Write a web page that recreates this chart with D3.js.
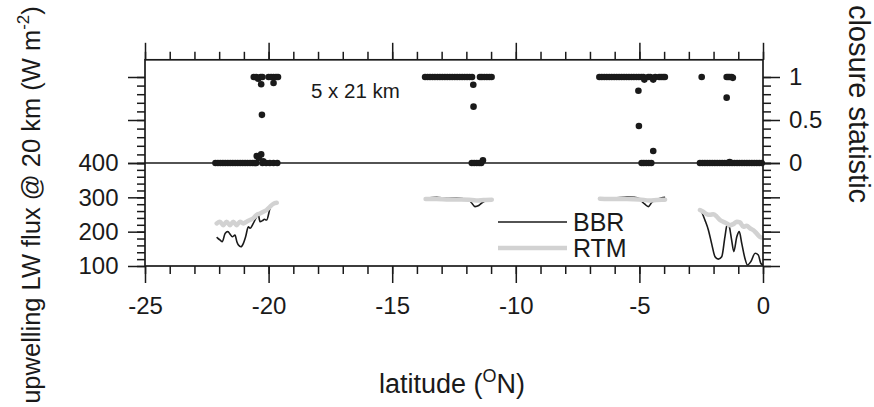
<!DOCTYPE html>
<html>
<head>
<meta charset="utf-8">
<script src="https://cdn.jsdelivr.net/npm/d3@7"></script>
<style>
  html, body { margin: 0; padding: 0; background: #fff; }
  svg { display: block; }
  text { font-family: "Liberation Sans", Arial, Helvetica, sans-serif; fill: #1a1a1a; }
</style>
</head>
<body>
<svg id="chart" width="874" height="407"></svg>
<script>
// ---------------- DATA ----------------
const latTicks = [-25, -20, -15, -10, -5, 0];
const fluxTicks = [100, 200, 300, 400];
const closureTicks = [0, 0.5, 1];

const legendLabels = ["BBR", "RTM"];
const annotation = "5 x 21 km";

// closure statistic scatter (latitude, value)
const closureLat = [
  // segment near -21
  -22.15,-22.05,-21.95,-21.85,-21.75,-21.65,-21.55,-21.45,-21.35,-21.25,-21.15,-21.05,-20.95,-20.85,-20.75,-20.65,-20.57,-20.5,
  -20.48,-20.4,-20.3,-20.22,-20.25,-20.1,-19.95,-19.8,-19.65,
  -20.6,-20.5,-20.42,-20.32,-20.25,-20.0,-19.9,-19.8,-19.7,-19.62,
  -20.3,-19.8,-20.27,
  // segment near -12.5
  -13.67,-13.57,-13.47,-13.37,-13.27,-13.17,-13.07,-12.97,-12.87,-12.77,-12.67,-12.57,-12.47,-12.37,-12.27,-12.17,-12.07,-11.97,-11.87,-11.77,
  -11.45,-11.37,-11.27,-11.17,-11.07,-10.98,
  -11.72,-11.71,
  -11.78,-11.68,-11.58,-11.48,-11.4,-11.33,
  // segment near -5.5
  -6.62,-6.52,-6.42,-6.32,-6.22,-6.12,-6.02,-5.92,-5.82,-5.72,-5.62,-5.52,-5.42,-5.32,-5.22,-5.12,-5.02,-4.92,-4.84,
  -4.8,-4.64,-4.56,-4.44,-4.36,-4.2,-4.12,-4.04,-3.97,
  -5.04,-5.02,-4.44,
  -4.91,-4.82,-4.72,-4.62,-4.52,
  // segment near -1.5
  -2.48,-1.47,-1.41,-1.35,-1.27,-1.22,
  -1.47,
  -2.55,-2.45,-2.35,-2.25,-2.15,-2.05,-1.95,-1.85,-1.75,-1.65,-1.55,-1.45,-1.35,-1.25,-1.15,-1.05,-0.95,-0.85,-0.75,-0.65,-0.55,-0.45,-0.35,-0.25,-0.15,-0.05,
  -1.35
];
const closureVal = [
  0,0,0,0,0,0,0,0,0,0,0,0,0,0,0,0,0,0,
  0.08,0.06,0.1,0.02,0,0,0,0,0,
  1,1,0.98,1,1,1,1,1,1,1,
  0.915,0.93,0.56,
  1,1,1,1,1,1,1,1,1,1,1,1,1,1,1,1,1,1,1,1,
  1,1,1,1,1,1,
  0.91,0.655,
  0,0,0,0,0,0.03,
  1,1,1,1,1,1,1,1,1,1,1,1,1,1,1,1,1,1,1,
  0.97,1,1,0.97,1,1,1,1,1,
  0.84,0.43,0.14,
  0,0,0,0,0,
  1,1,1,1,1,0.99,
  0.76,
  0,0,0,0,0,0,0,0,0,0,0,0,0,0,0,0,0,0,0,0,0,0,0,0,0,0,
  0.012
];

// upwelling LW flux, BBR (null = gap)
const bbrLat = [
  -22.1,-22.06,-21.97,-21.87,-21.76,-21.65,-21.55,-21.47,-21.36,-21.28,-21.22,-21.12,-21.02,-20.93,-20.82,-20.75,-20.62,-20.48,-20.42,-20.35,-20.25,-20.17,-20.08,-19.94,-19.87,-19.74,-19.63,
  null,
  -13.6,-13.2,-12.8,-12.4,-12.1,-11.9,-11.8,-11.65,-11.5,-11.35,-11.2,-11.0,
  null,
  -6.6,-6.0,-5.5,-5.2,-5.0,-4.9,-4.78,-4.64,-4.5,-4.4,-4.25,-4.1,-3.96,
  null,
  -2.48,-2.35,-2.21,-2.08,-1.94,-1.81,-1.67,-1.54,-1.44,-1.36,-1.27,-1.18,-1.06,-0.96,-0.86,-0.73,-0.63,-0.49,-0.32,-0.19,-0.09,-0.01
];
const bbrFlux = [
  184,181,176,171,195,200,192,185,190,170,161,156,166,185,214,210,224,244,251,229,232,236,234,268,278,284,287,
  null,
  298,300,297,299,296,293,285,273,276,285,290,293,
  null,
  297,298,301,300,296,288,280,273,285,290,295,299,300,
  null,
  258,234,205,166,127,120,127,185,224,214,176,142,185,200,166,122,103,113,137,132,108,103
];

// upwelling LW flux, RTM (null = gap)
const rtmLat = [
  -22.1,-21.97,-21.83,-21.7,-21.56,-21.43,-21.29,-21.16,-21.02,-20.89,-20.75,-20.62,-20.48,-20.35,-20.21,-20.08,-19.94,-19.81,-19.67,
  null,
  -13.65,-13.2,-12.7,-12.2,-11.9,-11.6,-11.3,-10.97,
  null,
  -6.6,-6.0,-5.5,-5.0,-4.6,-4.3,-3.96,
  null,
  -2.55,-2.42,-2.28,-2.15,-2.01,-1.87,-1.74,-1.61,-1.47,-1.34,-1.2,-1.06,-0.93,-0.8,-0.66,-0.53,-0.4,-0.26,-0.13,-0.06
];
const rtmFlux = [
  224,229,219,229,219,229,219,229,224,229,234,239,249,253,258,263,273,281,284,
  null,
  295,295,294,294,293,291,292,293,
  null,
  296,295,295,294,291,292,293,
  null,
  263,258,251,249,251,244,234,229,224,219,222,229,227,214,217,210,205,195,185,183
];

// ---------------- CHART ----------------
const svg = d3.select("#chart");
const ink = "#1a1a1a";
const grey = "#d2d2d2";
const fmt = d => String(d);   // plain hyphen-minus like the reference

const x = d3.scaleLinear().domain([-25, 0]).range([145, 763]);
const yFlux = d3.scaleLinear().domain([100, 400]).range([266, 163]);
const yClos = d3.scaleLinear().domain([0, 1]).range([163, 77]);
const topY = yClos(1.2);

// lines
const fluxLine = d3.line()
  .defined(d => d[1] !== null)
  .x(d => x(d[0]))
  .y(d => yFlux(d[1]))
  .curve(d3.curveMonotoneX);

svg.append("path")
  .datum(bbrLat.map((v, i) => [v, bbrFlux[i]]))
  .attr("d", fluxLine)
  .attr("fill", "none").attr("stroke", ink).attr("stroke-width", 1.6);

svg.append("path")
  .datum(rtmLat.map((v, i) => [v, rtmFlux[i]]))
  .attr("d", fluxLine)
  .attr("fill", "none").attr("stroke", grey).attr("stroke-width", 4.5)
  .attr("stroke-linejoin", "round").attr("stroke-linecap", "round");

// axes helper
function styleAxis(g) {
  g.select(".domain").remove();
  g.selectAll(".tick line").attr("stroke", ink).attr("stroke-width", 1.5);
  g.selectAll(".tick text").attr("font-size", 24).attr("fill", ink)
    .style("font-family", '"Liberation Sans", Arial, sans-serif');
}
const majLen = 17, minLen = 8;
const latMinor = d3.range(-25, 0.001, 1);
const fluxMinor = d3.range(100, 400.001, 20);
const closMinor = d3.range(0, 1.0001, 0.1);

// bottom axis
svg.append("g").attr("transform", `translate(0,${yFlux(100)})`)
  .call(d3.axisBottom(x).tickValues(latMinor).tickSize(minLen).tickSizeOuter(0).tickFormat(""))
  .call(styleAxis);
svg.append("g").attr("transform", `translate(0,${yFlux(100)})`)
  .call(d3.axisBottom(x).tickValues(latTicks).tickSize(majLen).tickSizeOuter(0).tickPadding(13.5).tickFormat(fmt))
  .call(styleAxis);
// top axis
svg.append("g").attr("transform", `translate(0,${topY})`)
  .call(d3.axisTop(x).tickValues(latMinor).tickSize(minLen).tickSizeOuter(0).tickFormat(""))
  .call(styleAxis);
svg.append("g").attr("transform", `translate(0,${topY})`)
  .call(d3.axisTop(x).tickValues(latTicks).tickSize(majLen).tickSizeOuter(0).tickFormat(""))
  .call(styleAxis);

// left axis: flux (labelled) + closure (unlabelled)
svg.append("g").attr("transform", `translate(${x(-25)},0)`)
  .call(d3.axisLeft(yFlux).tickValues(fluxMinor).tickSize(minLen).tickSizeOuter(0).tickFormat(""))
  .call(styleAxis);
svg.append("g").attr("transform", `translate(${x(-25)},0)`)
  .call(d3.axisLeft(yFlux).tickValues(fluxTicks).tickSize(majLen).tickSizeOuter(0).tickPadding(9.5).tickFormat(fmt))
  .call(styleAxis);
svg.append("g").attr("transform", `translate(${x(-25)},0)`)
  .call(d3.axisLeft(yClos).tickValues(closMinor).tickSize(minLen).tickSizeOuter(0).tickFormat(""))
  .call(styleAxis);
svg.append("g").attr("transform", `translate(${x(-25)},0)`)
  .call(d3.axisLeft(yClos).tickValues(closureTicks).tickSize(majLen).tickSizeOuter(0).tickFormat(""))
  .call(styleAxis);

// right axis: closure (labelled) + flux (unlabelled)
svg.append("g").attr("transform", `translate(${x(0)},0)`)
  .call(d3.axisRight(yClos).tickValues(closMinor).tickSize(minLen).tickSizeOuter(0).tickFormat(""))
  .call(styleAxis);
svg.append("g").attr("transform", `translate(${x(0)},0)`)
  .call(d3.axisRight(yClos).tickValues(closureTicks).tickSize(majLen).tickSizeOuter(0).tickPadding(9).tickFormat(fmt))
  .call(styleAxis);
svg.append("g").attr("transform", `translate(${x(0)},0)`)
  .call(d3.axisRight(yFlux).tickValues(fluxMinor).tickSize(minLen).tickSizeOuter(0).tickFormat(""))
  .call(styleAxis);
svg.append("g").attr("transform", `translate(${x(0)},0)`)
  .call(d3.axisRight(yFlux).tickValues(fluxTicks).tickSize(majLen).tickSizeOuter(0).tickFormat(""))
  .call(styleAxis);

// frame
svg.append("rect")
  .attr("x", x(-25)).attr("y", topY)
  .attr("width", x(0) - x(-25)).attr("height", yFlux(100) - topY)
  .attr("fill", "none").attr("stroke", ink).attr("stroke-width", 1.7);

// zero line between panels
svg.append("line")
  .attr("x1", x(-25)).attr("x2", x(0))
  .attr("y1", yClos(0)).attr("y2", yClos(0))
  .attr("stroke", ink).attr("stroke-width", 1.7);

// closure dots
svg.append("g").selectAll("circle")
  .data(closureLat.map((v, i) => [v, closureVal[i]]))
  .join("circle")
  .attr("cx", d => x(d[0]))
  .attr("cy", d => yClos(d[1]))
  .attr("r", 3.3)
  .attr("fill", ink);

// annotation
svg.append("text")
  .attr("x", 311).attr("y", 98)
  .attr("font-size", 20.5)
  .attr("fill", "#333")
  .text(annotation);

// legend
const legX1 = 498, legX2 = 567;
const legY = [222, 248];
svg.append("line").attr("x1", legX1).attr("x2", legX2).attr("y1", legY[0]).attr("y2", legY[0])
  .attr("stroke", ink).attr("stroke-width", 1.6);
svg.append("line").attr("x1", legX1).attr("x2", legX2).attr("y1", legY[1]).attr("y2", legY[1])
  .attr("stroke", grey).attr("stroke-width", 4.5);
legendLabels.forEach((t, i) => {
  svg.append("text").attr("x", 573).attr("y", legY[i]).attr("dy", "0.36em")
    .attr("font-size", 25).text(t);
});

// axis titles
const yt = svg.append("text")
  .attr("transform", "translate(40,205) rotate(-90)")
  .attr("text-anchor", "middle")
  .attr("font-size", 25.5);
yt.append("tspan").text("upwelling LW flux @ 20 km (W m");
yt.append("tspan").attr("font-size", 17).attr("dy", -11).text("-2");
yt.append("tspan").attr("dy", 11).text(")");

svg.append("text")
  .attr("transform", "translate(849,104) rotate(90)")
  .attr("text-anchor", "middle")
  .attr("font-size", 29)
  .text("closure statistic");

const xt = svg.append("text")
  .attr("x", 452).attr("y", 393)
  .attr("text-anchor", "middle")
  .attr("font-size", 27);
xt.append("tspan").text("latitude (");
xt.append("tspan").attr("font-size", 18).attr("dy", -11).text("O");
xt.append("tspan").attr("dy", 11).text("N)");
</script>
</body>
</html>
